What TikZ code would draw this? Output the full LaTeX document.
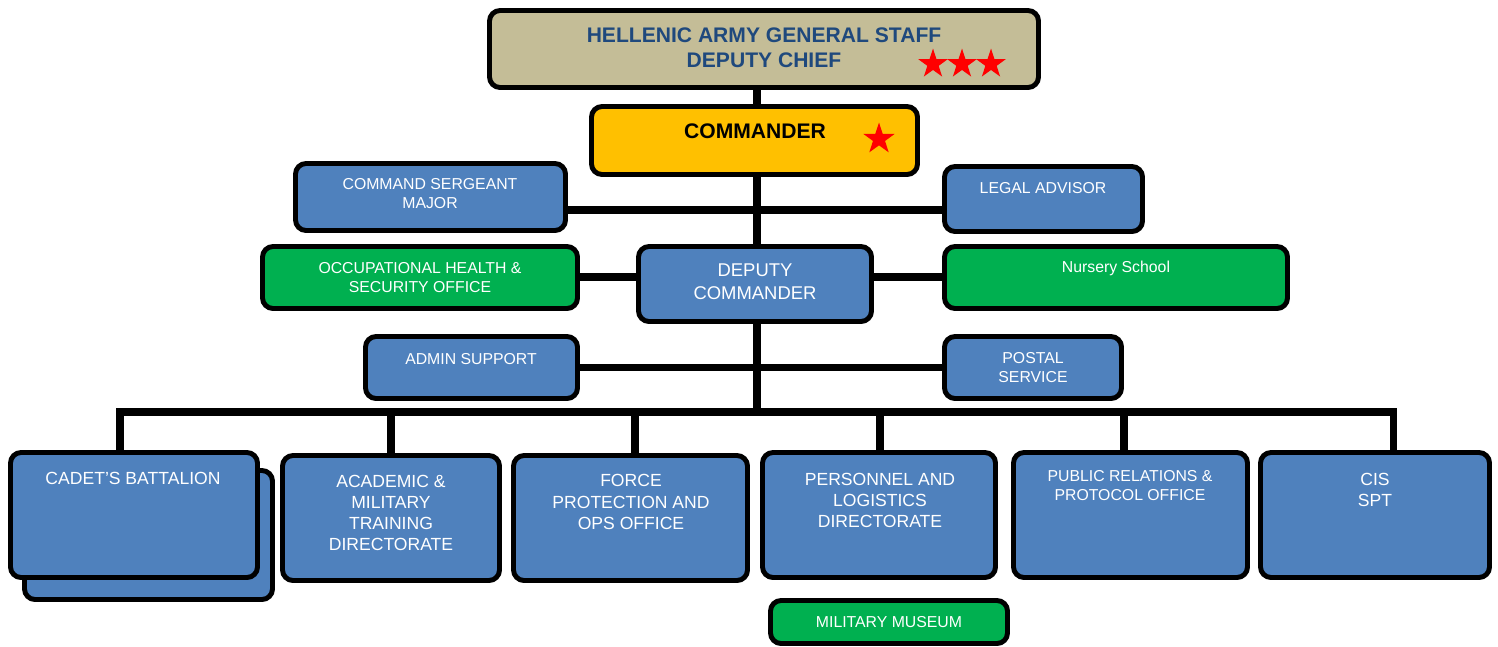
\documentclass[tikz,border=0pt]{standalone}
\usepackage{fontspec}
\setmainfont{Liberation Sans}
\usetikzlibrary{shapes.geometric,backgrounds}
\definecolor{boxblue}{HTML}{4F81BD}
\definecolor{boxgreen}{HTML}{00B050}
\definecolor{boxtan}{HTML}{C4BD97}
\definecolor{boxgold}{HTML}{FFC000}
\definecolor{titleblue}{HTML}{1F497D}
\begin{document}
\begin{tikzpicture}[x=0.02cm, y=-0.02cm,
                box/.style={draw=black, line width=2.8pt, rounded corners=6pt, inner sep=0pt},
                sz/.style 2 args={minimum width=#1*0.02cm, minimum height=#2*0.02cm},
                blue box/.style={box, fill=boxblue},
                green box/.style={box, fill=boxgreen},
                label text/.style={text=white, align=center, inner sep=0pt, font=\fontsize{10}{12}\selectfont},
                small text/.style={label text, font=\fontsize{9}{10.8}\selectfont},
                conn/.style={line width=4pt},
                red star/.style={star, star points=5, star point ratio=2.6, fill=red, inner sep=0pt, minimum size=0.62cm}
            ]
                \useasboundingbox (0,0) rectangle (1498,646);

                \node[box, fill=boxtan, sz={549}{77}] (chief) at (764,49) {};
                \node[inner sep=0pt, align=center, text=titleblue, font=\fontsize{12}{14.2}\bfseries] (chief-t) at (764,47.5)
                    {HELLENIC ARMY GENERAL STAFF\\DEPUTY CHIEF};
                \node[red star] (s1) at (933,64) {};
                \node[red star] (s2) at (962,64) {};
                \node[red star] (s3) at (991,64) {};

                \node[box, fill=boxgold, sz={326}{68}] (cmdr) at (754.5,140.5) {};
                \node[inner sep=0pt, font=\fontsize{12}{14}\bfseries] (cmdr-t) at (755,131) {COMMANDER};
                \node[red star, minimum size=0.66cm] (s4) at (879,139) {};

                \node[blue box, sz={270}{67}] (csm) at (430.5,197) {};
                \node[small text] (csm-t) at (430,194) {COMMAND SERGEANT\\MAJOR};
                \node[blue box, sz={198}{65}] (legal) at (1043.5,199) {};
                \node[small text] (legal-t) at (1043,188) {LEGAL ADVISOR};

                \node[green box, sz={315}{62}] (ohs) at (420,277.5) {};
                \node[small text] (ohs-t) at (420,277.5) {OCCUPATIONAL HEALTH \&\\SECURITY OFFICE};
                \node[blue box, sz={233}{75}] (dep) at (755,284) {};
                \node[label text, font=\fontsize{10.5}{13}\selectfont] (dep-t) at (755,281.5) {DEPUTY\\COMMANDER};
                \node[green box, sz={343}{62}] (nursery) at (1116,277.5) {};
                \node[small text] (nursery-t) at (1116,268) {Nursery School};

                \node[blue box, sz={212}{62}] (admin) at (471.5,367.5) {};
                \node[small text] (admin-t) at (471,359) {ADMIN SUPPORT};
                \node[blue box, sz={177}{62}] (postal) at (1033,367.5) {};
                \node[small text] (postal-t) at (1033,368) {POSTAL\\SERVICE};

                \node[blue box, sz={248}{129}] (cadet-b) at (148.5,535) {};
                \node[blue box, sz={247}{125}] (cadet) at (134,515) {};
                \node[label text] (cadet-t) at (133,478) {CADET’S BATTALION};
                \node[blue box, sz={217}{125}] (acad) at (391,518) {};
                \node[label text] (acad-t) at (391,513) {ACADEMIC \&\\MILITARY\\TRAINING\\DIRECTORATE};
                \node[blue box, sz={234}{125}] (force) at (630.5,518) {};
                \node[label text] (force-t) at (631,502) {FORCE\\PROTECTION AND\\OPS OFFICE};
                \node[blue box, sz={233}{125}] (pers) at (879,515) {};
                \node[label text] (pers-t) at (880,500.5) {PERSONNEL AND\\LOGISTICS\\DIRECTORATE};
                \node[blue box, sz={234}{125}] (pr) at (1130.5,515) {};
                \node[small text] (pr-t) at (1130,485.5) {PUBLIC RELATIONS \&\\PROTOCOL OFFICE};
                \node[blue box, sz={229}{125}] (cis) at (1375,515) {};
                \node[label text] (cis-t) at (1375,489.5) {CIS\\SPT};

                \node[green box, sz={237}{43}] (museum) at (889,622) {};
                \node[small text] (museum-t) at (889,622) {MILITARY MUSEUM};

                \coordinate (spine) at (757,412);
                \coordinate (busL) at (120,412);
                \coordinate (busR) at (1393,412);
                \coordinate (row1) at (757,210);
                \coordinate (row2) at (757,277);

                \begin{scope}[on background layer]
                    \draw[conn] (chief.south -| spine) -- (spine);
                    \draw[conn] (csm.east |- row1) -- (legal.west |- row1);
                    \draw[conn] (ohs.east |- row2) -- (nursery.west |- row2);
                    \draw[conn] (admin.east) -- (postal.west);
                    \draw[conn] (busL |- cadet.north) -- (busL) -- (busR) -- (busR |- cis.north);
                    \foreach \n/\x in {acad/391, force/635, pers/880, pr/1124}
                        \draw[conn] (\x,412) -- (\x,412 |- \n.north);
                \end{scope}
            \end{tikzpicture}
\end{document}
